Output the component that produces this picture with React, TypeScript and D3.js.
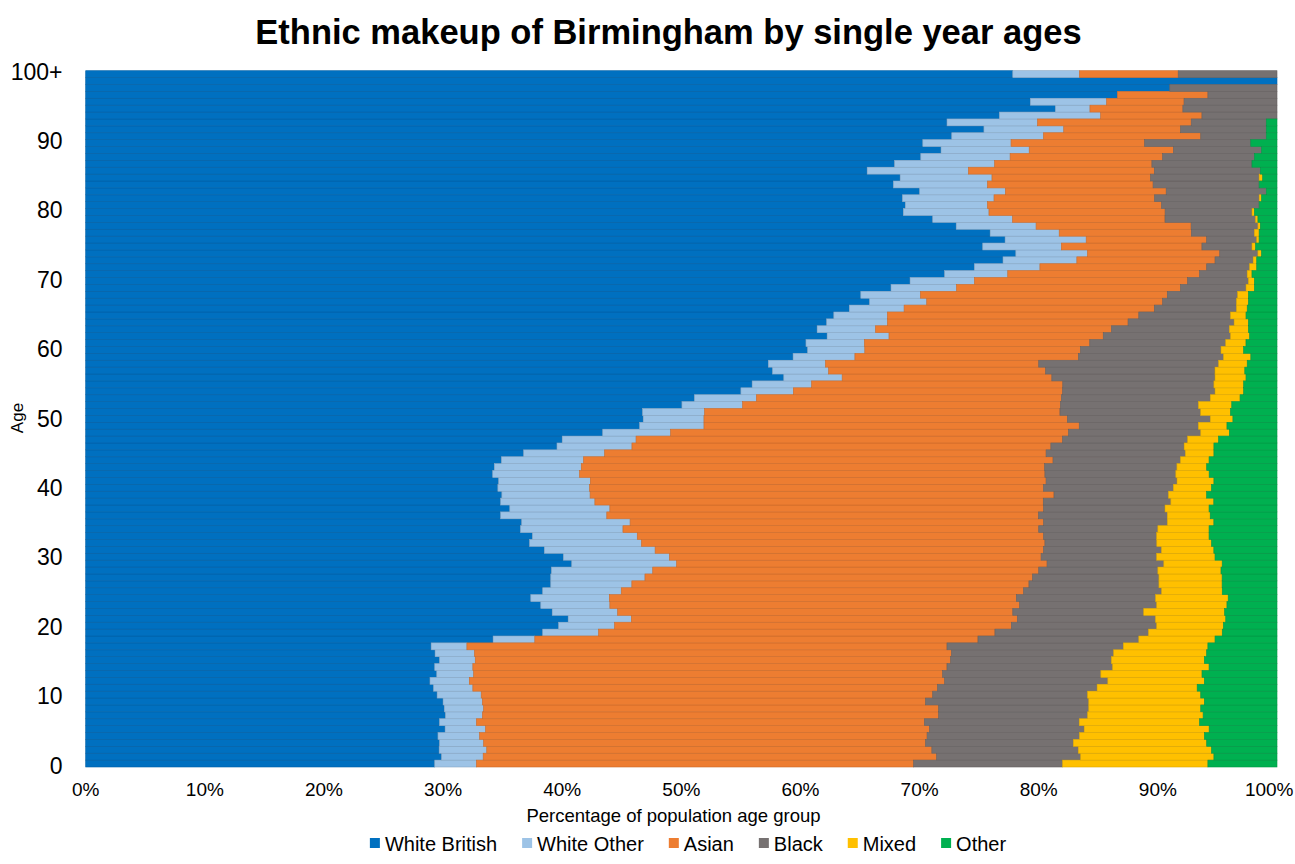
import React from "react";
import * as d3 from "d3";

const W = 1295;
const H = 864;
const FONT = "'Liberation Sans', Arial, Helvetica, sans-serif";

const seriesNames = ["White British", "White Other", "Asian", "Black", "Mixed", "Other"];
const seriesColors = ["#0070C0", "#9DC3E6", "#ED7D31", "#767171", "#FFC000", "#00B050"];

// Age categories 0 .. 100+
const ageLabels: string[] = Array.from({ length: 101 }, (_, i) => (i === 100 ? "100+" : String(i)));
const yTickAges = [0, 10, 20, 30, 40, 50, 60, 70, 80, 90, 100];
const yTickLabels = ["0", "10", "20", "30", "40", "50", "60", "70", "80", "90", "100+"];
const xTickValues = [0, 0.1, 0.2, 0.3, 0.4, 0.5, 0.6, 0.7, 0.8, 0.9, 1];

// Percent shares per age (index = age)
const whiteBritish = [
  29.3, 29.9, 29.7, 29.7, 29.6, 30.2, 29.7, 30.2, 30.1, 30.0,
  29.5, 29.2, 28.9, 29.5, 29.3, 29.7, 29.3, 29.0, 34.2, 38.4,
  39.7, 40.5, 39.2, 38.2, 37.4, 38.4, 39.0, 39.0, 39.1, 40.8,
  40.1, 38.5, 37.3, 37.5, 36.5, 36.6, 34.8, 35.6, 34.8, 34.9,
  34.6, 34.7, 34.2, 34.3, 34.9, 36.8, 39.6, 40.0, 43.4, 46.5,
  46.8, 46.7, 50.1, 51.1, 55.0, 56.0, 58.6, 57.6, 57.3, 59.5,
  60.6, 60.4, 62.3, 61.4, 62.2, 62.8, 64.1, 65.8, 65.0, 67.6,
  69.2, 72.1, 74.6, 77.0, 78.0, 75.3, 77.1, 76.0, 73.0, 71.1,
  68.7, 68.8, 68.7, 70.0, 67.8, 68.3, 65.6, 67.9, 70.1, 71.8,
  70.2, 72.7, 75.4, 72.3, 76.7, 81.4, 79.3, 86.6, 91.0, 100,
  77.9,
];
const whiteOther = [
  3.5, 3.5, 4.0, 3.7, 3.5, 3.4, 3.1, 3.1, 3.3, 3.3,
  3.7, 3.3, 3.3, 3.1, 3.2, 3.0, 3.3, 3.0, 3.5, 4.7,
  4.7, 5.3, 5.5, 5.8, 6.6, 6.6, 6.8, 7.9, 8.5, 8.8,
  8.9, 9.3, 9.4, 8.8, 8.6, 9.1, 8.9, 8.4, 7.9, 7.4,
  7.7, 7.7, 7.3, 7.3, 6.9, 6.8, 6.3, 6.2, 5.7, 5.4,
  5.1, 5.2, 5.1, 5.2, 4.4, 5.0, 4.9, 4.7, 4.8, 5.2,
  4.8, 4.9, 5.2, 4.9, 5.1, 4.5, 4.6, 4.8, 5.0, 5.5,
  5.4, 5.3, 5.5, 6.2, 6.0, 6.6, 6.8, 5.8, 6.7, 6.7,
  7.2, 6.9, 7.7, 7.2, 7.9, 7.7, 8.5, 8.4, 7.5, 7.4,
  7.4, 7.7, 6.7, 7.6, 8.5, 2.9, 6.4, 0, 0, 0,
  5.6,
];
const asian = [
  36.7, 38.1, 37.4, 37.1, 37.6, 37.3, 37.6, 38.3, 38.2, 37.2,
  37.9, 39.0, 39.9, 39.4, 39.8, 39.9, 40.0, 40.3, 37.2, 33.3,
  33.3, 32.4, 33.2, 34.4, 34.2, 33.8, 33.3, 32.5, 32.4, 31.1,
  31.2, 32.6, 33.9, 34.1, 34.9, 34.7, 36.2, 36.4, 37.6, 38.9,
  38.1, 38.3, 39.1, 38.9, 39.4, 37.1, 35.2, 35.8, 33.4, 31.5,
  30.5, 29.8, 26.7, 25.6, 22.6, 21.1, 17.6, 18.2, 17.9, 18.8,
  18.1, 18.9, 18.0, 19.8, 20.2, 21.1, 21.0, 19.8, 20.7, 18.8,
  17.9, 16.1, 14.0, 11.6, 11.1, 11.8, 10.1, 11.1, 13.0, 12.8,
  14.8, 14.6, 13.5, 13.5, 13.9, 13.3, 15.6, 13.2, 12.8, 12.1,
  11.2, 13.2, 9.8, 12.9, 8.5, 7.8, 6.5, 7.6, 0, 0,
  8.3,
];
const black = [
  12.5, 12.1, 12.3, 12.4, 12.8, 13.0, 13.0, 12.5, 12.6, 13.7,
  13.0, 13.4, 13.7, 13.3, 13.9, 13.5, 13.6, 14.8, 13.5, 12.9,
  12.2, 11.6, 11.0, 11.5, 11.7, 11.6, 10.9, 10.6, 10.0, 9.8,
  9.7, 9.9, 9.4, 9.5, 10.0, 10.4, 10.8, 10.2, 10.7, 9.6,
  10.9, 11.0, 11.0, 11.1, 10.7, 11.7, 11.2, 10.5, 11.1, 10.0,
  12.0, 11.8, 11.6, 12.5, 12.8, 12.7, 13.7, 14.2, 15.1, 12.2,
  11.8, 11.4, 10.7, 9.9, 8.9, 7.7, 6.9, 6.2, 5.9, 5.5,
  5.1, 4.0, 3.6, 3.2, 3.2, 4.2, 4.2, 5.3, 5.6, 7.6,
  7.3, 8.2, 8.8, 8.4, 8.9, 9.1, 8.9, 8.4, 7.7, 7.4,
  8.9, 5.5, 7.2, 6.3, 6.3, 7.9, 7.8, 5.8, 9.0, 0,
  8.3,
];
const mixed = [
  12.2, 11.2, 11.2, 11.2, 10.5, 10.5, 10.1, 9.7, 9.4, 9.7,
  9.5, 8.4, 8.1, 8.5, 8.1, 7.8, 7.8, 7.1, 6.4, 6.2,
  5.6, 5.9, 6.8, 5.9, 6.1, 5.1, 5.3, 5.3, 5.3, 4.9,
  4.9, 4.4, 4.6, 4.4, 4.3, 3.9, 3.6, 3.7, 3.6, 3.2,
  3.2, 3.1, 2.8, 2.5, 2.4, 2.4, 2.5, 2.6, 2.4, 2.4,
  1.9, 2.5, 2.8, 2.5, 2.4, 2.5, 2.6, 2.5, 2.4, 2.3,
  1.9, 1.7, 1.6, 1.6, 1.2, 1.3, 0.9, 1.0, 0.9, 0.7,
  0.5, 0.4, 0.6, 0.3, 0.3, 0.3, 0.2, 0.4, 0.2, 0.2,
  0.2, 0, 0.2, 0, 0, 0.3, 0, 0, 0, 0,
  0, 0, 0, 0, 0, 0, 0, 0, 0, 0,
  0,
];
const other = [
  5.8, 5.3, 5.5, 5.9, 6.1, 5.7, 6.5, 6.2, 6.4, 6.1,
  6.4, 6.7, 6.1, 6.3, 5.7, 6.1, 5.9, 5.8, 5.2, 4.6,
  4.5, 4.3, 4.4, 4.2, 4.1, 4.6, 4.6, 4.6, 4.7, 4.6,
  5.2, 5.3, 5.5, 5.7, 5.7, 5.3, 5.6, 5.7, 5.3, 5.9,
  5.5, 5.3, 5.7, 5.9, 5.7, 5.3, 5.3, 4.9, 4.0, 4.2,
  3.7, 3.9, 3.8, 3.1, 2.8, 2.8, 2.6, 2.7, 2.5, 2.2,
  2.8, 2.6, 2.3, 2.4, 2.4, 2.6, 2.5, 2.4, 2.4, 1.9,
  1.9, 2.1, 1.7, 1.7, 1.3, 1.8, 1.5, 1.5, 1.4, 1.6,
  1.9, 1.5, 1.3, 0.9, 1.5, 1.2, 1.4, 2.1, 1.9, 1.3,
  2.2, 0.9, 0.9, 0.9, 0, 0, 0, 0, 0, 0,
  0,
];

const seriesValues = [whiteBritish, whiteOther, asian, black, mixed, other];

function measure(text: string, size: number): number {
  if (typeof document === "undefined") return text.length * size * 0.5;
  const c = document.createElement("canvas").getContext("2d");
  if (!c) return text.length * size * 0.5;
  c.font = `${size}px 'Liberation Sans', Arial, sans-serif`;
  return c.measureText(text).width;
}

export default function App() {
  const plotLeft = 85.7;
  const plotRight = 1277;
  const plotTop = 70.7;
  const plotBottom = 767;

  const x = d3.scaleLinear().domain([0, 1]).range([plotLeft, plotRight]);
  const y = d3
    .scaleBand<string>()
    .domain(ageLabels.slice().reverse())
    .range([plotTop, plotBottom])
    .paddingInner(0);
  // tick-label placement along the category axis
  const yLabel = d3.scaleLinear().domain([0, 100]).range([765.5, 71.5]);

  const table = ageLabels.map((age, i) => {
    const row: any = { age };
    seriesNames.forEach((s, k) => (row[s] = seriesValues[k][i]));
    return row;
  });

  const layers = d3
    .stack<any>()
    .keys(seriesNames)
    .offset(d3.stackOffsetExpand)(table);

  const bw = y.bandwidth();

  // legend layout
  const legendSize = 20;
  const sq = 10;
  const widths = seriesNames.map((s) => measure(s, legendSize));
  const itemGap = 25;
  const total = widths.reduce((a, w) => a + sq + 5 + w, 0) + itemGap * (seriesNames.length - 1);
  let lx = 688 - total / 2;
  const legendItems = seriesNames.map((s, i) => {
    const item = { name: s, color: seriesColors[i], x: lx };
    lx += sq + 5 + widths[i] + itemGap;
    return item;
  });

  return (
    <div style={{ position: "fixed", left: 0, top: 0, width: W, height: H, background: "#fff" }}>
      <svg width={W} height={H} style={{ display: "block", fontFamily: FONT }}>
        <rect width={W} height={H} fill="#fff" />
        <text
          x={668.5}
          y={32}
          textAnchor="middle"
          dominantBaseline="central"
          fontSize={34.5}
          fontWeight="bold"
          fill="#000"
        >
          Ethnic makeup of Birmingham by single year ages
        </text>

        {layers.map((layer, k) => {
          const c = seriesColors[k];
          const stroke = d3.color(c)!.darker(0.45).toString();
          return (
            <g key={layer.key}>
              {layer.map((d, i) => {
                const w = x(d[1]) - x(d[0]);
                if (w <= 0.01) return null;
                return (
                  <rect
                    key={i}
                    x={x(d[0])}
                    y={y(d.data.age)!}
                    width={w}
                    height={bw}
                    fill={c}
                    stroke={stroke}
                    strokeWidth={0.6}
                  />
                );
              })}
            </g>
          );
        })}

        {yTickLabels.map((t, i) => (
          <text
            key={t}
            x={62.5}
            y={yLabel(yTickAges[i])}
            textAnchor="end"
            dominantBaseline="central"
            fontSize={23}
            fill="#000"
          >
            {t}
          </text>
        ))}

        {xTickValues.map((v, i) => {
          const last = i === xTickValues.length - 1;
          return (
            <text
              key={v}
              x={last ? 1293.5 : x(v)}
              y={789}
              textAnchor={last ? "end" : "middle"}
              dominantBaseline="central"
              fontSize={19}
              fill="#000"
            >
              {d3.format(".0%")(v)}
            </text>
          );
        })}

        <text
          x={673.5}
          y={815}
          textAnchor="middle"
          dominantBaseline="central"
          fontSize={18.5}
          fill="#000"
        >
          Percentage of population age group
        </text>

        <text
          transform={`translate(17,418) rotate(-90)`}
          textAnchor="middle"
          dominantBaseline="central"
          fontSize={17}
          fill="#000"
        >
          Age
        </text>

        {legendItems.map((it) => (
          <g key={it.name}>
            <rect x={it.x} y={838} width={sq} height={sq} fill={it.color} />
            <text
              x={it.x + sq + 5}
              y={843.5}
              dominantBaseline="central"
              fontSize={legendSize}
              fill="#000"
            >
              {it.name}
            </text>
          </g>
        ))}
      </svg>
    </div>
  );
}
